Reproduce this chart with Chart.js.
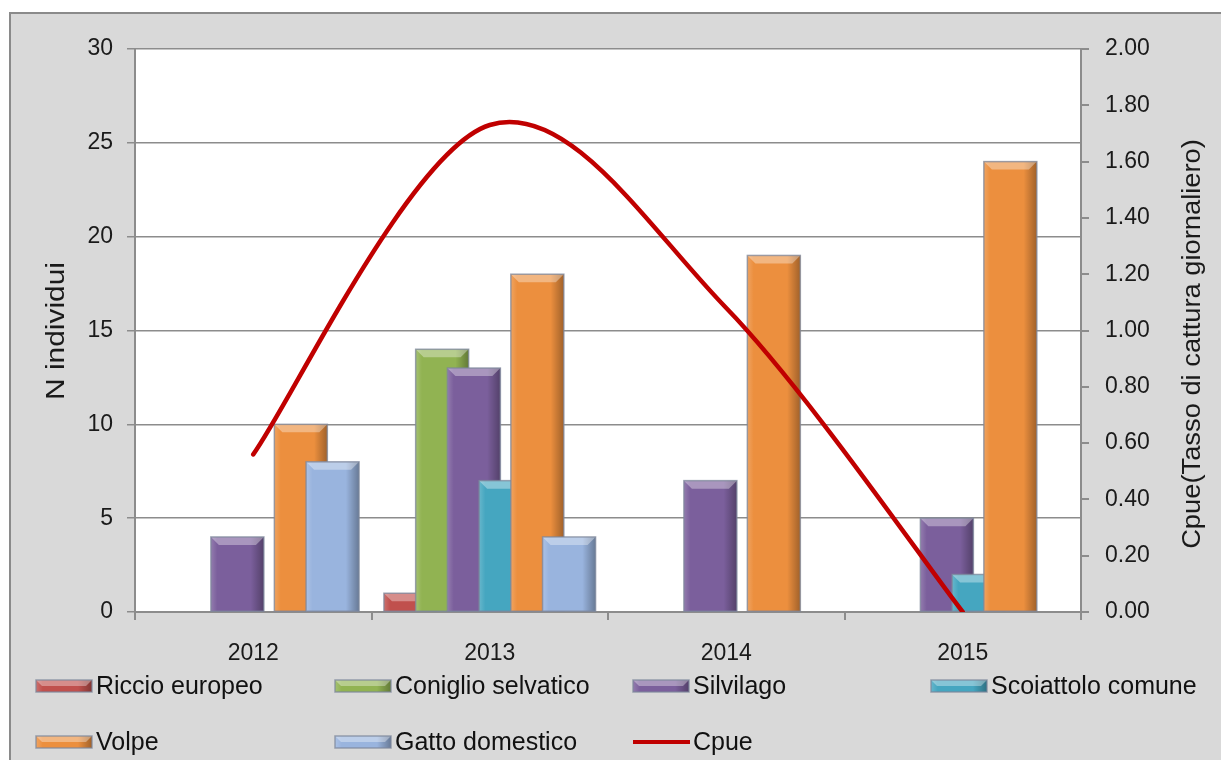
<!DOCTYPE html>
<html>
<head>
<meta charset="utf-8">
<title>Catture per specie</title>
<script src="https://cdn.jsdelivr.net/npm/chart.js@4/dist/chart.umd.min.js"></script>
<style>
    html, body { margin: 0; padding: 0; background: #fff; }
    #wrap { width: 1221px; height: 760px; }
</style>
</head>
<body>
<div id="wrap"><canvas id="catture"></canvas></div>
<script>
// Dati
const anni = ['2012', '2013', '2014', '2015'];
const riccio = [0, 1, 0, 0];
const coniglio = [0, 14, 0, 0];
const silvilago = [4, 13, 7, 5];
const scoiattolo = [0, 7, 0, 2];
const volpe = [10, 18, 19, 24];
const gatto = [8, 4, 0, 0];
const cpue = [0.56, 1.73, 1.08, 0.0];

const FONT = "'Liberation Sans', Arial, sans-serif";
const GRID = '#8c8c8c';
const TEXT = '#1a1a1a';

function barSeries(label, data, color) {
    return {
        type: 'bar',
        label: label,
        data: data,
        backgroundColor: color,
        borderWidth: 0,
        yAxisID: 'y'
    };
}

// Text with a horizontal stretch factor
function scaledText(ctx, text, x, y, size, stretch) {
    ctx.save();
    ctx.font = size + 'px ' + FONT;
    ctx.translate(x, y);
    ctx.scale(stretch, 1);
    ctx.fillText(text, 0, 0);
    ctx.restore();
}

// Catmull-Rom style handles (neighbour difference / 6), like a spreadsheet smoothed line
function smoothHandles(points) {
    points.forEach((p, i) => {
        const prev = points[i - 1] || p;
        const next = points[i + 1] || p;
        const dx = (next.x - prev.x) / 6;
        const dy = (next.y - prev.y) / 6;
        p.cp1x = p.x - dx;
        p.cp1y = p.y - dy;
        p.cp2x = p.x + dx;
        p.cp2y = p.y + dy;
    });
}

// Bevel look for the 3D-style columns
function bevel(ctx, left, top, w, h) {
    if (h < 1) return;
    const b = Math.min(8, h / 2, w / 4);
    ctx.save();
    const g = ctx.createLinearGradient(left, 0, left + w, 0);
    g.addColorStop(0, 'rgba(255,255,255,0.18)');
    g.addColorStop(0.12, 'rgba(255,255,255,0)');
    g.addColorStop(0.75, 'rgba(0,0,0,0)');
    g.addColorStop(1, 'rgba(0,0,0,0.32)');
    ctx.fillStyle = g;
    ctx.fillRect(left, top, w, h);
    ctx.beginPath();
    ctx.moveTo(left, top);
    ctx.lineTo(left + w, top);
    ctx.lineTo(left + w - b, top + b);
    ctx.lineTo(left + b, top + b);
    ctx.closePath();
    ctx.fillStyle = 'rgba(255,255,255,0.35)';
    ctx.fill();
    ctx.strokeStyle = 'rgba(125,135,155,0.75)';
    ctx.lineWidth = 1.5;
    ctx.strokeRect(left, top, w, h);
    ctx.restore();
}

// Background, outer frame and white plot area
const sfondo = {
    id: 'sfondo',
    beforeDraw(chart) {
        const ctx = chart.ctx;
        const a = chart.chartArea;
        ctx.save();
        ctx.fillStyle = '#ffffff';
        ctx.fillRect(0, 0, chart.width, chart.height);
        ctx.fillStyle = '#d9d9d9';
        ctx.fillRect(10, 13, chart.width, chart.height);
        ctx.strokeStyle = '#8a8a8a';
        ctx.lineWidth = 2;
        ctx.strokeRect(10, 13, chart.width + 10, chart.height + 10);
        ctx.fillStyle = '#ffffff';
        ctx.fillRect(a.left, a.top, a.right - a.left, a.bottom - a.top);
        ctx.restore();
    }
};

// Draw bars left to right so each column overlaps the previous one, line on top
const ordine = {
    id: 'ordine',
    beforeDatasetDraw() {
        return false;
    },
    afterDatasetsDraw(chart) {
        const ctx = chart.ctx;
        const a = chart.chartArea;
        ctx.save();
        ctx.beginPath();
        ctx.rect(a.left, a.top - 4, a.right - a.left, a.bottom - a.top + 4);
        ctx.clip();
        chart.data.datasets.forEach((ds, i) => {
            if (ds.type !== 'bar') return;
            chart.getDatasetMeta(i).data.forEach(bar => {
                const h = Math.abs(bar.base - bar.y);
                if (h < 1) return;
                bar.draw(ctx, a);
                bevel(ctx, bar.x - bar.width / 2, Math.min(bar.y, bar.base), bar.width, h);
            });
        });
        chart.data.datasets.forEach((ds, i) => {
            if (ds.type !== 'line') return;
            const meta = chart.getDatasetMeta(i);
            meta.dataset.updateControlPoints(a, meta.iScale.axis);
            smoothHandles(meta.data);
            meta.controller.draw();
        });
        ctx.restore();
    }
};

// Axis titles (both read bottom to top)
const titoli = {
    id: 'titoli',
    afterDraw(chart) {
        const ctx = chart.ctx;
        ctx.save();
        ctx.fillStyle = TEXT;
        ctx.textAlign = 'center';
        ctx.textBaseline = 'middle';
        ctx.translate(57, 331);
        ctx.rotate(-Math.PI / 2);
        scaledText(ctx, 'N individui', 0, 0, 26, 1.15);
        ctx.restore();
        ctx.save();
        ctx.fillStyle = TEXT;
        ctx.textAlign = 'center';
        ctx.textBaseline = 'middle';
        ctx.translate(1193, 344);
        ctx.rotate(-Math.PI / 2);
        scaledText(ctx, 'Cpue(Tasso di cattura giornaliero)', 0, 0, 26, 1.05);
        ctx.restore();
    }
};

// Legend laid out in fixed columns under the plot
const legenda = {
    id: 'legenda',
    afterDraw(chart) {
        const ctx = chart.ctx;
        const cols = [36, 335, 633, 931];
        const rows = [686, 742];
        ctx.save();
        ctx.textBaseline = 'middle';
        chart.data.datasets.forEach((ds, i) => {
            const x = cols[i % 4];
            const y = rows[Math.floor(i / 4)];
            if (ds.type === 'line') {
                ctx.strokeStyle = ds.borderColor;
                ctx.lineWidth = 4;
                ctx.beginPath();
                ctx.moveTo(x, y);
                ctx.lineTo(x + 57, y);
                ctx.stroke();
            } else {
                ctx.fillStyle = ds.backgroundColor;
                ctx.fillRect(x, y - 6, 56, 12);
                bevel(ctx, x, y - 6, 56, 12);
            }
            ctx.fillStyle = '#111';
            scaledText(ctx, ds.label, x + 60, y + 1, 25, 1);
        });
        ctx.restore();
    }
};

const ctx = document.getElementById('catture').getContext('2d');
new Chart(ctx, {
    data: {
        labels: anni,
        datasets: [
            barSeries('Riccio europeo', riccio, '#c0504d'),
            barSeries('Coniglio selvatico', coniglio, '#91b352'),
            barSeries('Silvilago', silvilago, '#7b5f9c'),
            barSeries('Scoiattolo comune', scoiattolo, '#45a6c0'),
            barSeries('Volpe', volpe, '#ec8f3e'),
            barSeries('Gatto domestico', gatto, '#99b4de'),
            {
                type: 'line',
                label: 'Cpue',
                data: cpue,
                yAxisID: 'y1',
                borderColor: '#c00000',
                borderWidth: 4.5,
                borderCapStyle: 'round',
                pointRadius: 0,
                tension: 0.4,
                fill: false
            }
        ]
    },
    options: {
        responsive: true,
        maintainAspectRatio: false,
        animation: false,
        datasets: {
            bar: {
                categoryPercentage: 0.805,
                barPercentage: 1.67
            }
        },
        layout: {
            padding: { top: 49, left: 0, right: 0, bottom: 0 }
        },
        plugins: {
            legend: { display: false },
            tooltip: { enabled: false }
        },
        scales: {
            x: {
                offset: true,
                grid: {
                    offset: true,
                    drawOnChartArea: false,
                    color: GRID,
                    lineWidth: 2,
                    tickLength: 8
                },
                border: { color: GRID, width: 2 },
                ticks: {
                    color: TEXT,
                    font: { family: FONT, size: 23 },
                    padding: 20
                },
                afterFit(scale) { scale.height = 148; }
            },
            y: {
                position: 'left',
                min: 0,
                max: 30,
                ticks: {
                    stepSize: 5,
                    color: TEXT,
                    font: { family: FONT, size: 23 },
                    padding: 14
                },
                grid: {
                    color: GRID,
                    lineWidth: 1.5,
                    tickLength: 8
                },
                border: { color: GRID, width: 2 },
                afterFit(scale) { scale.width = 135; }
            },
            y1: {
                position: 'right',
                min: 0,
                max: 2,
                ticks: {
                    stepSize: 0.2,
                    color: TEXT,
                    font: { family: FONT, size: 23 },
                    padding: 16,
                    callback: v => v.toFixed(2)
                },
                grid: {
                    drawOnChartArea: false,
                    color: GRID,
                    lineWidth: 2,
                    tickLength: 8
                },
                border: { color: GRID, width: 2 },
                afterFit(scale) { scale.width = 140; }
            }
        }
    },
    plugins: [sfondo, ordine, titoli, legenda]
});
</script>
</body>
</html>
